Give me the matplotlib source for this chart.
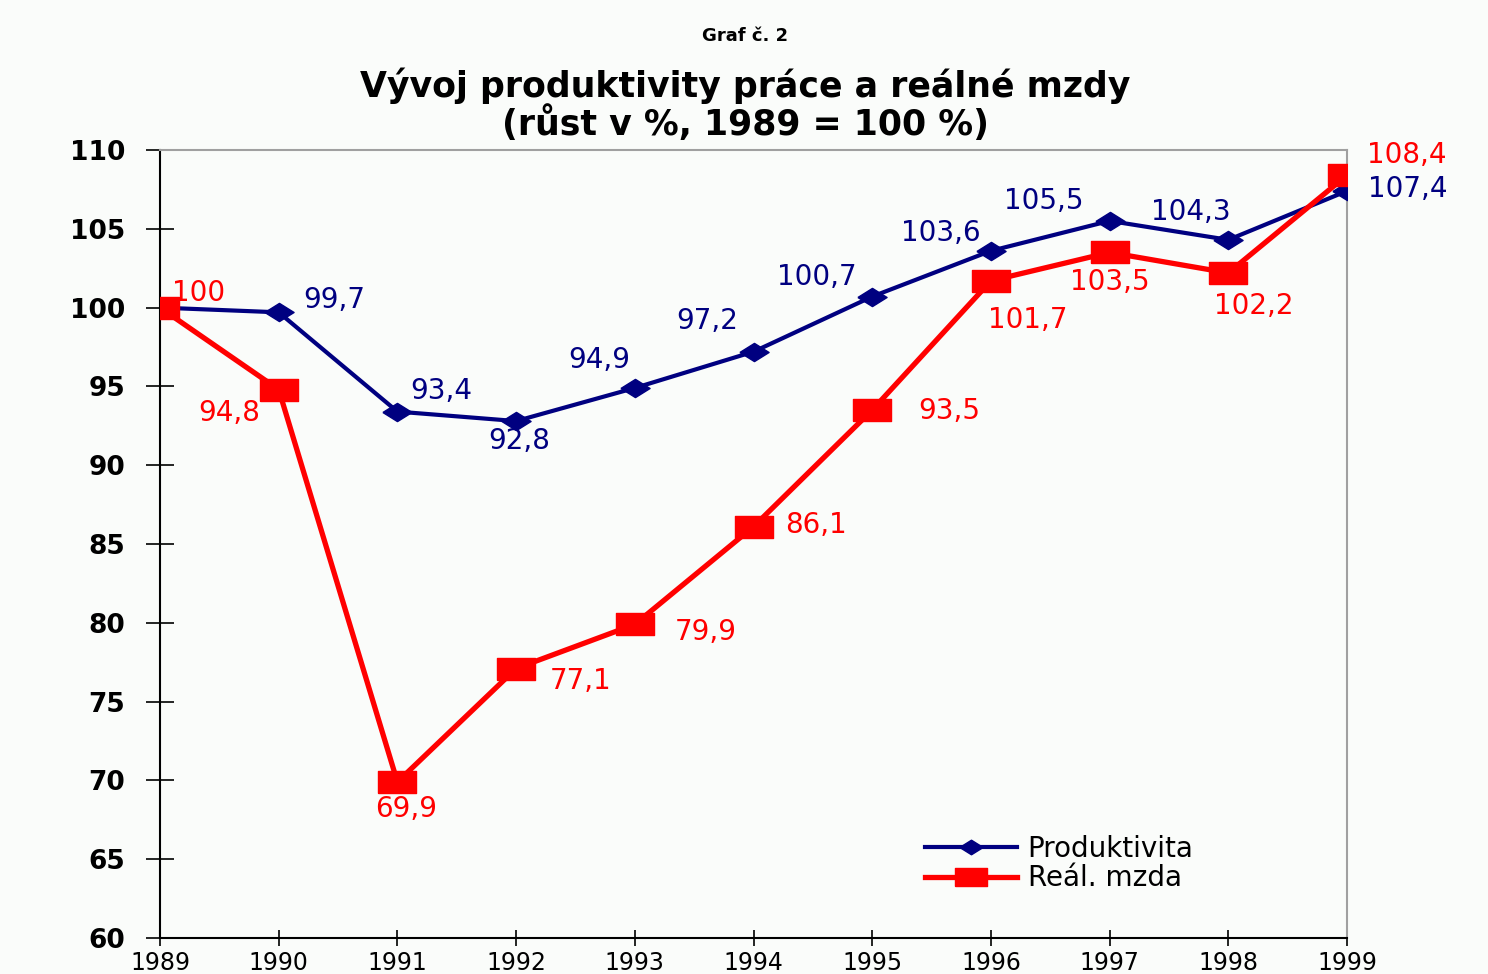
import matplotlib
matplotlib.use("Agg")
import matplotlib.pyplot as plt

years = [1989, 1990, 1991, 1992, 1993, 1994, 1995, 1996, 1997, 1998, 1999]
produktivita = [100, 99.7, 93.4, 92.8, 94.9, 97.2, 100.7, 103.6, 105.5, 104.3, 107.4]
realna_mzda = [100, 94.8, 69.9, 77.1, 79.9, 86.1, 93.5, 101.7, 103.5, 102.2, 108.4]
prod_labels = [None, "99,7", "93,4", "92,8", "94,9", "97,2", "100,7", "103,6", "105,5", "104,3", "107,4"]
mzda_labels = ["100", "94,8", "69,9", "77,1", "79,9", "86,1", "93,5", "101,7", "103,5", "102,2", "108,4"]
yticks = [60, 65, 70, 75, 80, 85, 90, 95, 100, 105, 110]

# label placement (pixel offsets, alignment)
prod_off = [None, (56, 12, 'center'), (44, 21, 'center'), (3, -20, 'center'), (-36, 28, 'center'),
            (-46, 31, 'center'), (-55, 20, 'center'), (-50, 18, 'center'), (-66, 20, 'center'),
            (-37, 28, 'center'), (21, 2, 'left')]
mzda_off = [(12, 15, 'left'), (-50, -23, 'center'), (9, -27, 'center'), (34, -12, 'left'),
            (40, -8, 'left'), (32, 2, 'left'), (46, -1, 'left'), (37, -39, 'center'),
            (0, -30, 'center'), (25, -33, 'center'), (20, 20, 'left')]

BLUE = "#000080"
RED = "#ff0000"
BG = "#fafcfa"

fig = plt.figure(figsize=(14.88, 9.74), dpi=100, facecolor=BG)
ax = fig.add_axes([160/1488, 1-938/974, (1347-160)/1488, (938-150)/974])
ax.set_facecolor(BG)

diamond = [(-1.6, 0), (0, 1), (1.6, 0), (0, -1), (-1.6, 0)]
rect = [(-1.75, -1), (1.75, -1), (1.75, 1), (-1.75, 1), (-1.75, -1)]

ax.plot(years, produktivita, color=BLUE, lw=3.0, marker=diamond, ms=21,
        label="Produktivita", zorder=3)
ax.plot(years, realna_mzda, color=RED, lw=3.8, marker=rect, ms=28,
        label="Reál. mzda", zorder=4)

LBL = 20
for x, y, t, o in zip(years, produktivita, prod_labels, prod_off):
    if t is None:
        continue
    ax.annotate(t, (x, y), xytext=(o[0], o[1]), textcoords='offset pixels',
                ha=o[2], va='center', color=BLUE, fontsize=LBL, annotation_clip=False)
for x, y, t, o in zip(years, realna_mzda, mzda_labels, mzda_off):
    ax.annotate(t, (x, y), xytext=(o[0], o[1]), textcoords='offset pixels',
                ha=o[2], va='center', color=RED, fontsize=LBL, annotation_clip=False)

ax.set_xlim(1989, 1999)
ax.set_ylim(60, 110)
ax.set_yticks(yticks)
ax.set_yticklabels([str(v) for v in yticks], fontweight='bold', fontsize=19)
ax.set_xticks(years)
ax.set_xticklabels([str(y) for y in years], fontsize=17)
ax.tick_params(axis='y', direction='inout', length=20, width=1.2, pad=15)
ax.tick_params(axis='x', direction='inout', length=11, width=1.2, pad=4)

for s in ['left', 'bottom']:
    ax.spines[s].set_color('black')
    ax.spines[s].set_linewidth(1.5)
for s in ['top', 'right']:
    ax.spines[s].set_color('#a0a0a0')
    ax.spines[s].set_linewidth(1.5)

leg = ax.legend(loc='upper left', bbox_to_anchor=(0.635, 0.145), frameon=False,
                fontsize=20, handlelength=3.3, borderaxespad=0, labelspacing=0.05,
                handletextpad=0.4, markerscale=0.8)

fig.text(745/1488, 1-36/974, "Graf č. 2", ha='center', va='center', fontsize=13, fontweight='bold')
fig.text(745/1488, 1-105/974, "Vývoj produktivity práce a reálné mzdy\n(růst v %, 1989 = 100 %)",
         ha='center', va='center', fontsize=25, fontweight='bold', linespacing=1.05,
         multialignment='center')

fig.savefig("out.png", dpi=100, facecolor=BG)
